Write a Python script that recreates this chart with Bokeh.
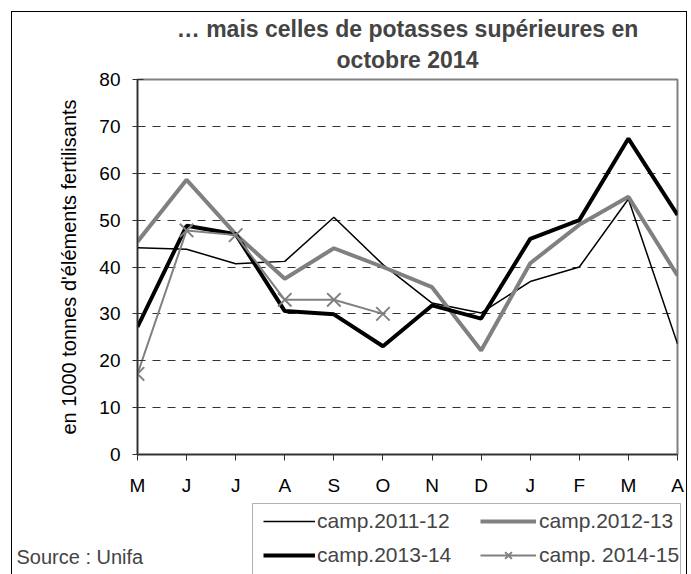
from bokeh.plotting import figure
from bokeh.layouts import column
from bokeh.models import (Title, Legend, LegendItem, Label, FixedTicker, Range1d,
                          BoxAnnotation)
from bokeh.embed import file_html
from bokeh.resources import INLINE

months = ["M", "J", "J", "A", "S", "O", "N", "D", "J", "F", "M", "A"]
camp_2011_12 = [44.1, 43.8, 40.7, 41.2, 50.6, 40.5, 32.3, 30.2, 36.9, 40.0, 54.5, 23.6]
camp_2012_13 = [45.4, 58.6, 47.0, 37.5, 44.0, 40.0, 35.7, 22.2, 40.8, 49.0, 55.0, 38.2]
camp_2013_14 = [27.2, 48.8, 47.0, 30.6, 29.9, 23.1, 31.8, 29.0, 46.0, 50.0, 67.4, 51.1]
camp_2014_15 = [17.2, 47.8, 46.8, 33.0, 33.0, 30.0]
y_ticks = [0, 10, 20, 30, 40, 50, 60, 70, 80]
series_labels = ["camp.2011-12", "camp.2012-13", "camp.2013-14", "camp. 2014-15"]

FONT = "Liberation Sans"
GREY = "#808080"
W = 674

xs = list(range(len(months)))

p = figure(width=W, height=483, output_backend="svg", toolbar_location=None,
           x_range=Range1d(0, len(months) - 1), y_range=Range1d(0, 80),
           min_border_left=125, min_border_right=9, min_border_top=64,
           min_border_bottom=44, title=None)
p.margin = (3, 0, 0, 0)

p.outline_line_color = GREY
p.outline_line_width = 2

# axes
p.xaxis.ticker = FixedTicker(ticks=xs)
p.xaxis.major_label_overrides = {i: m for i, m in enumerate(months)}
p.yaxis.ticker = FixedTicker(ticks=y_ticks)
for ax in (p.xaxis[0], p.yaxis[0]):
    ax.axis_line_color = "#303030"
    ax.axis_line_width = 1.5
    ax.major_tick_line_color = "#303030"
    ax.minor_tick_line_color = None
    ax.major_label_text_font = FONT
    ax.major_label_text_font_size = "19px"
    ax.major_label_text_color = "black"
p.yaxis.major_tick_in = 6
p.yaxis.major_tick_out = 5
p.yaxis.major_label_standoff = 12
p.xaxis.major_tick_in = 0
p.xaxis.major_tick_out = 6
p.xaxis.major_label_standoff = 14
p.yaxis.axis_label = "en 1000 tonnes d'éléments fertilisants"
p.yaxis.axis_label_text_font = FONT
p.yaxis.axis_label_text_font_size = "20px"
p.yaxis.axis_label_text_font_style = "normal"
p.yaxis.axis_label_text_color = "black"
p.yaxis.axis_label_standoff = 16

p.xgrid.grid_line_color = None
p.ygrid.grid_line_color = "#333333"
p.ygrid.grid_line_dash = "8 7"
p.ygrid.grid_line_width = 1

# series styles
styles = [
    dict(line_color="black", line_width=1.5),
    dict(line_color=GREY, line_width=4),
    dict(line_color="black", line_width=4),
    dict(line_color=GREY, line_width=2),
]
marker_style = dict(marker="x", size=19, line_color=GREY, line_width=2)

p.line(xs, camp_2011_12, **styles[0])
p.line(xs, camp_2012_13, **styles[1])
p.line(xs, camp_2013_14, **styles[2])
xs4 = xs[:len(camp_2014_15)]
p.line(xs4, camp_2014_15, **styles[3])
p.scatter(xs4, camp_2014_15, **marker_style)

# titles
p.add_layout(Title(text="octobre 2014", text_font=FONT, text_font_size="23px",
                   text_font_style="bold", align="center", standoff=14), "above")
p.add_layout(Title(text="\u2026 mais celles de potasses supérieures en", text_font=FONT,
                   text_font_size="23px", text_font_style="bold", align="center",
                   standoff=-8), "above")

# bottom strip: legend + source
BH = 80
q = figure(width=W, height=BH, output_backend="svg", toolbar_location=None,
           x_range=Range1d(0, W), y_range=Range1d(0, BH),
           x_axis_location=None, y_axis_location=None, min_border=0,
           min_border_left=0, min_border_right=0, min_border_top=0, min_border_bottom=0)
q.outline_line_color = None
q.xgrid.grid_line_color = None
q.ygrid.grid_line_color = None

for fig in (p, q):
    if "frame_align" in fig.properties():
        fig.frame_align = False

nan = float("nan")
proxies = []
for st in styles:
    proxies.append([q.line(x=[nan], y=[nan], **st)])
proxies[3].append(q.scatter(x=[nan], y=[nan], **marker_style))

# legend box
q.add_layout(BoxAnnotation(left=240, right=668, bottom=-10, top=75,
                           fill_color="white", fill_alpha=1.0,
                           line_color="black", line_width=1))

common = dict(orientation="vertical", label_text_font=FONT, label_text_font_size="21px",
              glyph_height=24, label_height=24, padding=0, spacing=10, margin=0,
              border_line_color=None, background_fill_alpha=0.0)
leg1 = Legend(items=[LegendItem(label=series_labels[i], renderers=proxies[i]) for i in (0, 2)],
              location=(251, 11), glyph_width=52, label_standoff=2, **common)
leg2 = Legend(items=[LegendItem(label=series_labels[i], renderers=proxies[i]) for i in (1, 3)],
              location=(468, 11), glyph_width=56, label_standoff=3, **common)
q.add_layout(leg1, "center")
q.add_layout(leg2, "center")

q.add_layout(Label(x=4, y=22, text="Source : Unifa", text_font=FONT,
                   text_font_size="20px", text_baseline="alphabetic"))

layout = column(p, q, spacing=0,
                styles={"border": "1px solid black", "margin-left": "11px",
                        "margin-top": "11px"})

open("out.html", "w").write(file_html(layout, INLINE))
